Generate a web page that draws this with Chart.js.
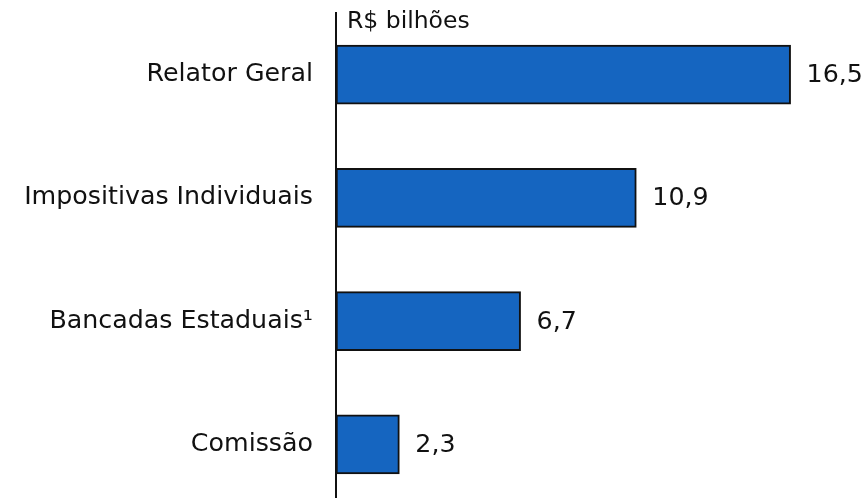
<!DOCTYPE html>
<html><head><meta charset="utf-8">
<script src="https://cdn.jsdelivr.net/npm/chart.js@4"></script>
<style>html,body{margin:0;padding:0;background:#fff;overflow:hidden;width:866px;height:498px}#w{width:866px;height:506px;position:relative}</style>
</head><body><div id="w"><canvas id="c"></canvas></div>
<script>
const categories = ["Relator Geral", "Impositivas Individuais", "Bancadas Estaduais\u00B9", "Comissão"];
const values = [16.5, 10.9, 6.7, 2.3];
const valueLabels = ["16,5", "10,9", "6,7", "2,3"];
const unitLabel = "R$ bilhões";

const FONT = "'DejaVu Sans', Verdana, sans-serif";
const FS = 25.3;

const extras = {
  id: 'extras',
  afterDatasetsDraw(chart) {
    const ctx = chart.ctx;
    const meta = chart.getDatasetMeta(0);
    ctx.save();
    ctx.font = FS + 'px ' + FONT;
    ctx.fillStyle = '#111';
    ctx.textAlign = 'left';
    ctx.textBaseline = 'middle';
    meta.data.forEach((bar, i) => {
      ctx.fillText(valueLabels[i], bar.x + 16, bar.y + 1);
    });
    ctx.font = '23.5px ' + FONT;
    ctx.fillText(unitLabel, chart.chartArea.left + 11, 22);
    ctx.restore();
  }
};

new Chart(document.getElementById('c'), {
  type: 'bar',
  data: {
    labels: categories,
    datasets: [{
      data: values,
      backgroundColor: '#1565C0',
      borderColor: '#111',
      borderWidth: 2,
      borderSkipped: false,
      barThickness: 59
    }]
  },
  options: {
    indexAxis: 'y',
    responsive: true,
    maintainAspectRatio: false,
    animation: false,
    layout: { padding: { top: 13, right: 6.5, bottom: 0, left: 0 } },
    plugins: { legend: { display: false }, tooltip: { enabled: false } },
    scales: {
      x: { type: 'linear', min: 0, max: 19, display: false },
      y: {
        type: 'category',
        afterFit(scale) { scale.width = 336; scale.paddingTop = 0; scale.paddingBottom = 0; },
        grid: { display: false, drawTicks: false },
        border: { display: true, color: '#111', width: 2 },
        ticks: { color: '#111', padding: 23, font: { family: FONT, size: FS } }
      }
    }
  },
  plugins: [extras]
});
</script></body></html>
